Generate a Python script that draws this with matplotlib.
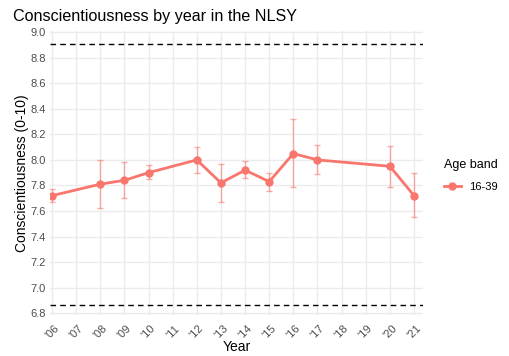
import matplotlib
matplotlib.use("Agg")
import matplotlib.pyplot as plt
from matplotlib.lines import Line2D

plt.rcParams['font.family'] = ['Liberation Sans', 'DejaVu Sans']

years = [2006, 2008, 2009, 2010, 2012, 2013, 2014, 2015, 2016, 2017, 2020, 2021]
means = [7.72, 7.81, 7.84, 7.90, 8.00, 7.82, 7.92, 7.83, 8.05, 8.00, 7.95, 7.72]
lower = [7.67, 7.62, 7.70, 7.85, 7.90, 7.67, 7.86, 7.76, 7.79, 7.89, 7.79, 7.55]
upper = [7.77, 8.00, 7.98, 7.96, 8.10, 7.97, 7.99, 7.90, 8.32, 8.12, 8.11, 7.90]
ref_upper = 8.905
ref_lower = 6.865
tick_years = list(range(2006, 2022))
tick_labels = ["'%02d" % (y % 100) for y in tick_years]
yticks = [6.8, 7.0, 7.2, 7.4, 7.6, 7.8, 8.0, 8.2, 8.4, 8.6, 8.8, 9.0]
band_label = "16-39"
color = "#F8766D"

W, H = 509, 356
fig = plt.figure(figsize=(W / 100, H / 100), dpi=100)
x0, x1, y0, y1 = 50, 423, 31, 315
ax = fig.add_axes([x0 / W, 1 - y1 / H, (x1 - x0) / W, (y1 - y0) / H])

ax.set_xlim(2005.92, 2021.37)
ax.set_ylim(6.785, 9.01)

for s in ax.spines.values():
    s.set_visible(False)
ax.set_xticks(tick_years)
ax.set_xticklabels(tick_labels, rotation=45, ha='center', va='top',
                   fontsize=8, color='#4D4D4D')
ax.set_yticks(yticks)
ax.set_yticklabels(["%.1f" % v for v in yticks], fontsize=8, color='#4D4D4D')
ax.tick_params(axis='y', length=0, pad=3)
ax.tick_params(axis='x', length=0, pad=6)
ax.grid(True, color='#EBEBEB', linewidth=1.0)
ax.set_axisbelow(True)

err_lo = [m - l for m, l in zip(means, lower)]
err_hi = [u - m for m, u in zip(means, upper)]
ax.errorbar(years, means, yerr=[err_lo, err_hi], fmt='none', ecolor=color,
            alpha=0.6, elinewidth=1.0, capsize=2, capthick=1.0, zorder=2)
ax.plot(years, means, color=color, linewidth=2.0, marker='o', markersize=5,
        zorder=3)

ax.axhline(ref_upper, color='black', linestyle=(0, (4, 3)), linewidth=1.0, zorder=4)
ax.axhline(ref_lower, color='black', linestyle=(0, (4, 3)), linewidth=1.0, zorder=4)

fig.text(237 / W, 1 - 347 / H, "Year", fontsize=10, ha='center', va='center')
ax.set_ylabel("Conscientiousness (0-10)", fontsize=10, color='black', labelpad=1)
fig.text(13 / W, 1 - 17 / H, "Conscientiousness by year in the NLSY",
         fontsize=11.6, ha='left', va='center')

handle = Line2D([0], [0], color=color, linewidth=2.0, marker='o', markersize=5)
leg = fig.legend([handle], [band_label], title="Age band",
                 loc='upper left', bbox_to_anchor=(434 / W, 1 - 149 / H),
                 frameon=False, fontsize=8, title_fontsize=9,
                 handlelength=1.5, handletextpad=0.8, labelspacing=1.0)
leg._legend_box.align = "left"

fig.savefig("out.png", dpi=100)
